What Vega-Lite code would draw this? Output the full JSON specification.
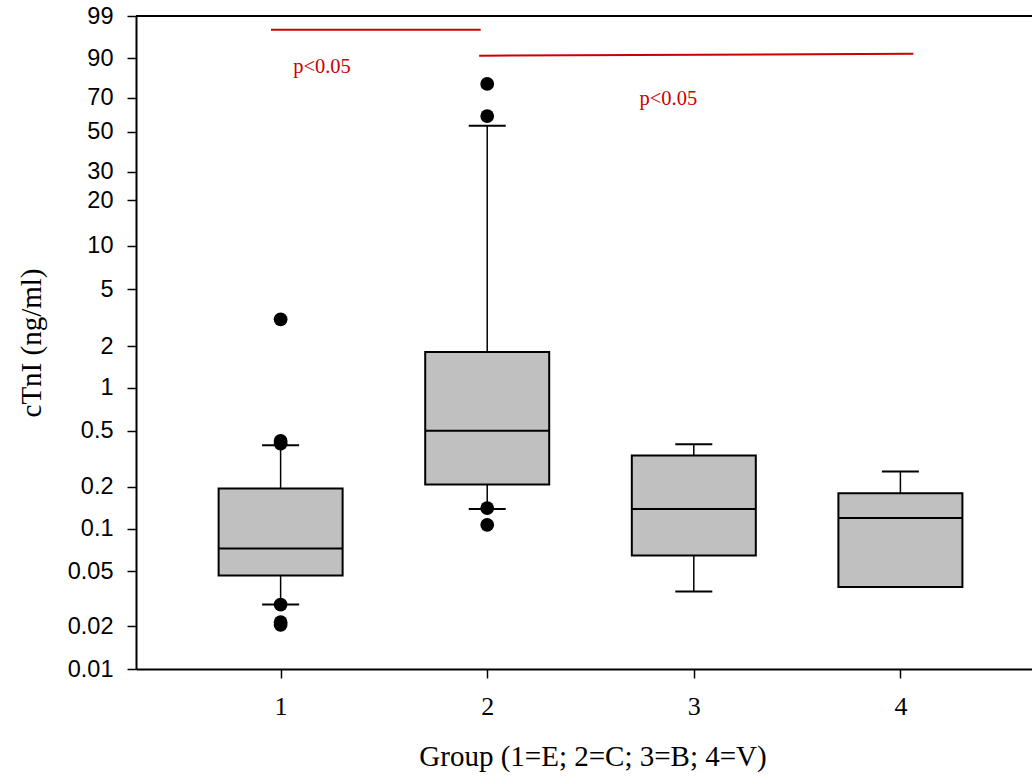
{
  "$schema": "https://vega.github.io/schema/vega-lite/v6.json",
  "width": 896,
  "height": 653,
  "autosize": {"type": "none"},
  "padding": {"left": 136, "top": 16, "right": 0, "bottom": 111},
  "background": "white",
  "config": {
    "view": {"stroke": null},
    "axis": {"grid": false, "domainColor": "black", "tickColor": "black", "labelColor": "black", "titleColor": "black", "titleFontWeight": "normal"}
  },
  "datasets": {
    "boxes": [
      {"g": 1, "lo": 0.029, "q1": 0.0467, "med": 0.0722, "q3": 0.195, "hi": 0.39},
      {"g": 2, "lo": 0.139, "q1": 0.209, "med": 0.499, "q3": 1.82, "hi": 53.5},
      {"g": 3, "lo": 0.036, "q1": 0.0648, "med": 0.139, "q3": 0.332, "hi": 0.397},
      {"g": 4, "lo": null, "q1": 0.0386, "med": 0.121, "q3": 0.1804, "hi": 0.26}
    ],
    "outliers": [
      {"g": 1, "v": 3.06}, {"g": 1, "v": 0.42}, {"g": 1, "v": 0.40}, {"g": 1, "v": 0.029},
      {"g": 1, "v": 0.0217}, {"g": 1, "v": 0.0206},
      {"g": 2, "v": 77}, {"g": 2, "v": 59.2}, {"g": 2, "v": 0.141}, {"g": 2, "v": 0.1074}
    ],
    "sig": [
      {"x": 0.9534, "x2": 1.9684, "y": 96.09, "y2": 96.09},
      {"x": 1.961, "x2": 4.0623, "y": 90.55, "y2": 90.98}
    ],
    "sigtext": [
      {"x": 1.2003, "y": 82.4, "t": "p<0.05"},
      {"x": 2.8765, "y": 65.7, "t": "p<0.05"}
    ],
    "frame": [{"top": 99}]
  },
  "layer": [
    {
      "data": {"name": "boxes"},
      "mark": {"type": "bar", "size": 124, "fill": "#c0c0c0", "stroke": "black", "strokeWidth": 2},
      "encoding": {
        "x": {
          "field": "g", "type": "quantitative",
          "scale": {"domain": [0.3, 4.637], "nice": false, "zero": false, "padding": 0},
          "axis": {
            "values": [1, 2, 3, 4], "format": "d",
            "domainWidth": 2, "tickWidth": 1.5, "tickSize": 9,
            "labelFont": "Liberation Serif", "labelFontSize": 26, "labelBaseline": "alphabetic", "labelPadding": 36,
            "title": "Group (1=E; 2=C; 3=B; 4=V)", "titleFont": "Liberation Serif", "titleFontSize": 29,
            "titleX": 456.5, "titleY": 96, "titleAlign": "center", "titleBaseline": "alphabetic"
          }
        },
        "y": {
          "field": "q1", "type": "quantitative",
          "scale": {
            "domain": [0.01, 0.015, 0.02, 0.03, 0.04, 0.05, 0.07, 0.1, 0.15, 0.2, 0.3, 0.4, 0.5, 0.7, 1, 1.5, 2, 3, 5, 7, 10, 20, 30, 50, 70, 90, 99],
            "range": [653, 628.5, 610.3, 586.1, 568.5, 555, 534.2, 512.5, 487.6, 470.7, 445.2, 427.6, 414.5, 393.3, 371.7, 346.7, 330, 304.3, 273.3, 252.4, 229.7, 184, 155.7, 115.7, 81.7, 42.3, 0],
            "nice": false, "zero": false, "padding": 0
          },
          "axis": {
            "values": [0.01, 0.02, 0.05, 0.1, 0.2, 0.5, 1, 2, 5, 10, 20, 30, 50, 70, 90, 99],
            "labelExpr": "'' + datum.value",
            "domainWidth": 2, "tickWidth": 1.5, "tickSize": 9,
            "labelFont": "Liberation Sans", "labelFontSize": 23.5, "labelPadding": 14,
            "title": "cTnI (ng/ml)", "titleFont": "Liberation Serif", "titleFontSize": 29,
            "titleX": -96, "titleY": 326.5, "titleAngle": 270, "titleAlign": "center", "titleBaseline": "alphabetic"
          }
        },
        "y2": {"field": "q3"}
      }
    },
    {
      "data": {"name": "boxes"},
      "mark": {"type": "tick", "orient": "horizontal", "size": 124, "thickness": 2, "color": "black", "opacity": 1},
      "encoding": {
        "x": {"field": "g", "type": "quantitative"},
        "y": {"field": "med", "type": "quantitative"}
      }
    },
    {
      "data": {"name": "boxes"},
      "mark": {"type": "rule", "color": "black", "strokeWidth": 1.5},
      "encoding": {
        "x": {"field": "g", "type": "quantitative"},
        "y": {"field": "q3", "type": "quantitative"},
        "y2": {"field": "hi"}
      }
    },
    {
      "data": {"name": "boxes"},
      "mark": {"type": "rule", "color": "black", "strokeWidth": 1.5},
      "encoding": {
        "x": {"field": "g", "type": "quantitative"},
        "y": {"field": "lo", "type": "quantitative"},
        "y2": {"field": "q1"}
      }
    },
    {
      "data": {"name": "boxes"},
      "mark": {"type": "tick", "orient": "horizontal", "size": 37, "thickness": 2, "color": "black", "opacity": 1},
      "encoding": {
        "x": {"field": "g", "type": "quantitative"},
        "y": {"field": "hi", "type": "quantitative"}
      }
    },
    {
      "data": {"name": "boxes"},
      "mark": {"type": "tick", "orient": "horizontal", "size": 37, "thickness": 2, "color": "black", "opacity": 1},
      "encoding": {
        "x": {"field": "g", "type": "quantitative"},
        "y": {"field": "lo", "type": "quantitative"}
      }
    },
    {
      "data": {"name": "outliers"},
      "mark": {"type": "point", "shape": "circle", "filled": true, "size": 190, "color": "black", "opacity": 1},
      "encoding": {
        "x": {"field": "g", "type": "quantitative"},
        "y": {"field": "v", "type": "quantitative"}
      }
    },
    {
      "data": {"name": "frame"},
      "mark": {"type": "rule", "color": "black", "strokeWidth": 2},
      "encoding": {"y": {"field": "top", "type": "quantitative"}}
    },
    {
      "data": {"name": "sig"},
      "mark": {"type": "rule", "color": "#cc0000", "strokeWidth": 2},
      "encoding": {
        "x": {"field": "x", "type": "quantitative"},
        "x2": {"field": "x2"},
        "y": {"field": "y", "type": "quantitative"},
        "y2": {"field": "y2"}
      }
    },
    {
      "data": {"name": "sigtext"},
      "mark": {"type": "text", "font": "Liberation Serif", "fontSize": 20.5, "color": "#cc0000", "align": "center", "baseline": "alphabetic"},
      "encoding": {
        "x": {"field": "x", "type": "quantitative"},
        "y": {"field": "y", "type": "quantitative"},
        "text": {"field": "t"}
      }
    }
  ]
}
